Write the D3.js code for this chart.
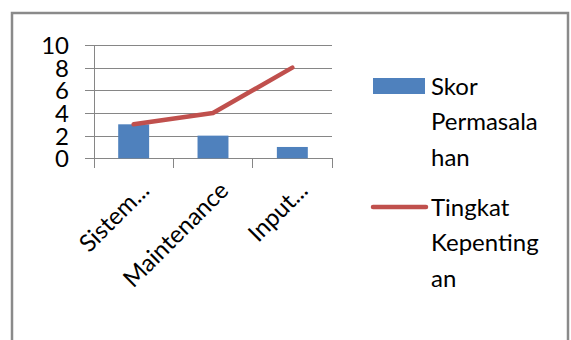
<!DOCTYPE html>
<html>
<head>
<meta charset="utf-8">
<script src="https://cdn.jsdelivr.net/npm/d3@7/dist/d3.min.js"></script>
<style>
  html, body { margin: 0; padding: 0; background: #fff; }
  svg { display: block; }
  text { font-family: Lato, "Open Sans", sans-serif; fill: #000; }
</style>
</head>
<body>
<svg id="chart" width="571" height="340"></svg>
<script>
// Chart data
const categories = ["Sistem...", "Maintenance", "Input..."];
const skorPermasalahan = [3, 2, 1];
const tingkatKepentingan = [3, 4, 8];
const yTicks = [0, 2, 4, 6, 8, 10];
const legendBarLines = ["Skor", "Permasala", "han"];
const legendLineLines = ["Tingkat", "Kepenting", "an"];

const barColor = "#4f81bd";
const lineColor = "#c0504d";
const gridColor = "#868686";
const fontSize = 24;

const svg = d3.select("#chart");

// Outer chart frame
svg.append("rect")
  .attr("x", 12).attr("y", 13)
  .attr("width", 556).attr("height", 360)
  .attr("fill", "#fff")
  .attr("stroke", "#8a8a8a")
  .attr("stroke-width", 2.5);

const plot = { left: 94, right: 332, top: 45, bottom: 158.3 };

const x = d3.scaleBand()
  .domain(categories)
  .range([plot.left, plot.right])
  .paddingInner(0.61)
  .paddingOuter(0.305);

const xEdges = d3.scaleBand()
  .domain(categories)
  .range([plot.left, plot.right])
  .padding(0);

const y = d3.scaleLinear()
  .domain([0, 10])
  .range([plot.bottom, plot.top]);

// Horizontal gridlines with short ticks on the left
const yAxis = d3.axisLeft(y)
  .tickValues(yTicks)
  .tickSize(-(plot.right - plot.left))
  .tickFormat(d3.format("d"));

const yg = svg.append("g")
  .attr("transform", `translate(${plot.left},0)`)
  .call(yAxis);
yg.select(".domain").remove();
yg.selectAll(".tick line")
  .attr("stroke", gridColor)
  .attr("x1", -9)
  .attr("shape-rendering", "crispEdges");
yg.selectAll(".tick text")
  .attr("x", -25)
  .attr("dy", "0.35em")
  .attr("text-anchor", "end")
  .style("font-family", "Lato, sans-serif")
  .style("font-size", fontSize + "px")
  .attr("fill", "#000");

// Vertical value axis line
svg.append("line")
  .attr("x1", plot.left).attr("x2", plot.left)
  .attr("y1", plot.top).attr("y2", plot.bottom)
  .attr("stroke", gridColor)
  .attr("shape-rendering", "crispEdges");

// Category axis with boundary ticks
const edgeValues = categories.map(c => xEdges(c)).concat([plot.right]);
const xg = svg.append("g");
xg.append("line")
  .attr("x1", plot.left).attr("x2", plot.right)
  .attr("y1", plot.bottom).attr("y2", plot.bottom)
  .attr("stroke", gridColor)
  .attr("shape-rendering", "crispEdges");
xg.selectAll("line.edge")
  .data(edgeValues)
  .join("line")
  .attr("class", "edge")
  .attr("x1", d => d).attr("x2", d => d)
  .attr("y1", plot.bottom).attr("y2", plot.bottom + 10)
  .attr("stroke", gridColor)
  .attr("shape-rendering", "crispEdges");

// Rotated category labels
xg.selectAll("text.cat")
  .data(categories)
  .join("text")
  .attr("class", "cat")
  .attr("text-anchor", "end")
  .style("font-size", fontSize + "px")
  .attr("transform", d => {
    const cx = x(d) + x.bandwidth() / 2 + 17;
    const cy = 192;
    return `translate(${cx},${cy}) rotate(-45)`;
  })
  .text(d => d);

// Bars
svg.append("g")
  .selectAll("rect")
  .data(categories)
  .join("rect")
  .attr("x", d => x(d))
  .attr("width", x.bandwidth())
  .attr("y", (d, i) => y(skorPermasalahan[i]))
  .attr("height", (d, i) => y(0) - y(skorPermasalahan[i]))
  .attr("fill", barColor);

// Line series
const line = d3.line()
  .x((d, i) => x(categories[i]) + x.bandwidth() / 2)
  .y(d => y(d));

svg.append("path")
  .datum(tingkatKepentingan)
  .attr("d", line)
  .attr("fill", "none")
  .attr("stroke", lineColor)
  .attr("stroke-width", 4.5)
  .attr("stroke-linecap", "round")
  .attr("stroke-linejoin", "round");

// Legend
const legend = svg.append("g");
legend.append("rect")
  .attr("x", 373).attr("y", 78)
  .attr("width", 52).attr("height", 16)
  .attr("fill", barColor);
legend.append("line")
  .attr("x1", 373).attr("x2", 426)
  .attr("y1", 207).attr("y2", 207)
  .attr("stroke", lineColor)
  .attr("stroke-width", 4.5)
  .attr("stroke-linecap", "round");

function legendText(lines, baseline) {
  const t = legend.append("text")
    .attr("x", 431)
    .attr("y", baseline)
    .style("font-size", fontSize + "px");
  t.selectAll("tspan")
    .data(lines)
    .join("tspan")
    .attr("x", 431)
    .attr("dy", (d, i) => i === 0 ? 0 : 35.5)
    .text(d => d);
}
legendText(legendBarLines, 94.5);
legendText(legendLineLines, 215.5);
</script>
</body>
</html>
